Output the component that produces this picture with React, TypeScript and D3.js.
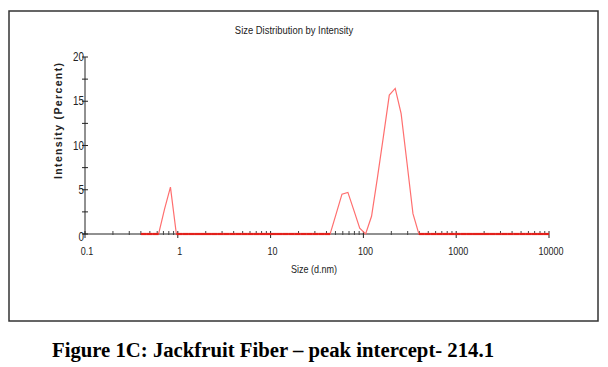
import { useEffect, useRef } from "react";
import * as d3 from "d3";

// Zetasizer size classes (d.nm)
const sizes = [
  0.4, 0.4632, 0.5365, 0.6213, 0.7195, 0.8332, 0.9649, 1.117, 1.294, 1.499,
  1.736, 2.01, 2.328, 2.696, 3.122, 3.615, 4.187, 4.849, 5.615, 6.503,
  7.531, 8.721, 10.1, 11.7, 13.54, 15.69, 18.17, 21.04, 24.36, 28.21,
  32.67, 37.84, 43.82, 50.75, 58.77, 68.06, 78.82, 91.28, 105.7, 122.4,
  141.8, 164.2, 190.1, 220.2, 255, 295.3, 342, 396.1, 458.7, 531.2,
  615.1, 712.4, 825, 955.4, 1106, 1281, 1484, 1718, 1990, 2305,
  2669, 3091, 3580, 4145, 4801, 5560, 6439, 7456, 8635, 10000,
];

// intensity (%) per size class
const intensity = [
  0, 0, 0, 0, 2.8, 5.3, 0, 0, 0, 0,
  0, 0, 0, 0, 0, 0, 0, 0, 0, 0,
  0, 0, 0, 0, 0, 0, 0, 0, 0, 0,
  0, 0, 0, 2.25, 4.5, 4.7, 2.7, 0.65, 0, 2.0,
  6.4, 11.0, 15.7, 16.45, 13.6, 8.0, 2.3, 0, 0, 0,
  0, 0, 0, 0, 0, 0, 0, 0, 0, 0,
  0, 0, 0, 0, 0, 0, 0, 0, 0, 0,
];

const xTicks = [0.1, 1, 10, 100, 1000, 10000];
const yTicks = [0, 5, 10, 15, 20];

const title = "Size Distribution by Intensity";
const xTitle = "Size (d.nm)";
const yTitle = "Intensity (Percent)";
const caption = "Figure 1C: Jackfruit Fiber \u2013 peak intercept- 214.1";

const W = 608,
  H = 367;
const sans = "'Liberation Sans', Arial, sans-serif";
const squeeze = 0.82; // fake the narrow face of the original

export default function App() {
  const gx = useRef<SVGGElement>(null),
    gy = useRef<SVGGElement>(null);

  const x = d3.scaleLog().domain([0.1, 10000]).range([85, 549]);
  const y = d3.scaleLinear().domain([0, 20]).range([234, 57]);

  const data = sizes.map((s, i) => ({ s, v: intensity[i] }));

  const line = d3
    .line<{ s: number; v: number }>()
    .x((d) => x(d.s))
    .y((d) => y(d.v));

  // segments lying on the baseline are drawn thicker
  const zeroSegs = data
    .slice(1)
    .map((d, i) => [data[i], d])
    .filter(([a, b]) => a.v === 0 && b.v === 0);

  useEffect(() => {
    const minors: number[] = [];
    for (let e = -1; e < 4; e++)
      for (let k = 2; k <= 9; k++) minors.push(k * Math.pow(10, e));

    const g = d3.select(gx.current);
    g.selectAll("*").remove();
    g.append("line")
      .attr("x1", 83)
      .attr("x2", x(10000))
      .attr("y1", 0)
      .attr("y2", 0)
      .attr("stroke", "#222");
    g.selectAll(".minor")
      .data(minors)
      .join("line")
      .attr("class", "minor")
      .attr("x1", (d) => x(d))
      .attr("x2", (d) => x(d))
      .attr("y1", -3)
      .attr("y2", 1)
      .attr("stroke", "#444");
    g.selectAll(".major")
      .data(xTicks)
      .join("line")
      .attr("class", "major")
      .attr("x1", (d) => x(d))
      .attr("x2", (d) => x(d))
      .attr("y1", -3)
      .attr("y2", 4)
      .attr("stroke", "#222");
    g.selectAll("text")
      .data(xTicks)
      .join("text")
      .attr("transform", (d) => `translate(${x(d) + 2},21) scale(${squeeze},1)`)
      .attr("text-anchor", "middle")
      .attr("font-family", sans)
      .attr("font-size", 11)
      .attr("fill", "#222")
      .text((d) => String(d));
  }, [x]);

  useEffect(() => {
    const g = d3.select(gy.current);
    g.selectAll("*").remove();
    g.append("line")
      .attr("x1", 0)
      .attr("x2", 0)
      .attr("y1", y(0))
      .attr("y2", y(20))
      .attr("stroke", "#222");
    const all = d3.range(0, 20.01, 2.5);
    g.selectAll(".tk")
      .data(all)
      .join("line")
      .attr("class", "tk")
      .attr("x1", -3)
      .attr("x2", 3)
      .attr("y1", (d) => y(d))
      .attr("y2", (d) => y(d))
      .attr("stroke", "#222");
    g.selectAll("text")
      .data(yTicks)
      .join("text")
      .attr("transform", (d) => `translate(-1,${y(d) + (d === 0 ? 7 : 4)}) scale(${squeeze},1)`)
      .attr("text-anchor", "end")
      .attr("font-family", sans)
      .attr("font-size", 12)
      .attr("fill", "#222")
      .text((d) => String(d));
  }, [y]);

  return (
    <svg
      width={W}
      height={H}
      style={{ position: "absolute", left: 0, top: 0, background: "#fff" }}
    >
      <rect x={9} y={11} width={589} height={310} fill="none" stroke="#333" strokeWidth={1.5} />
      <text
        transform={`translate(294,34) scale(${squeeze},1)`}
        textAnchor="middle"
        fontFamily={sans}
        fontSize={11.5}
        fill="#222"
      >
        {title}
      </text>
      <g ref={gy} transform={`translate(${x(0.1)},0)`} />
      <g ref={gx} transform={`translate(0,${y(0)})`} />
      <text
        transform={`translate(62,121) rotate(-90)`}
        textAnchor="middle"
        fontFamily={sans}
        fontWeight="bold"
        fontSize={10.5}
        textLength={116}
        lengthAdjust="spacing"
        fill="#222"
      >
        {yTitle}
      </text>
      <text
        transform={`translate(314,273) scale(${squeeze},1)`}
        textAnchor="middle"
        fontFamily={sans}
        fontSize={11}
        fill="#222"
      >
        {xTitle}
      </text>
      <path d={line(data) ?? ""} fill="none" stroke="#ff6f6f" strokeWidth={1.2} />
      {zeroSegs.map(([a, b], i) => (
        <line
          key={i}
          x1={x(a.s)}
          x2={x(b.s)}
          y1={y(0)}
          y2={y(0)}
          stroke="#e3201b"
          strokeWidth={2.2}
        />
      ))}
      <text
        x={52}
        y={357}
        fontFamily="'Liberation Serif', 'Times New Roman', serif"
        fontWeight="bold"
        fontSize={20}
        textLength={442}
        lengthAdjust="spacingAndGlyphs"
        fill="#000"
      >
        {caption}
      </text>
    </svg>
  );
}
